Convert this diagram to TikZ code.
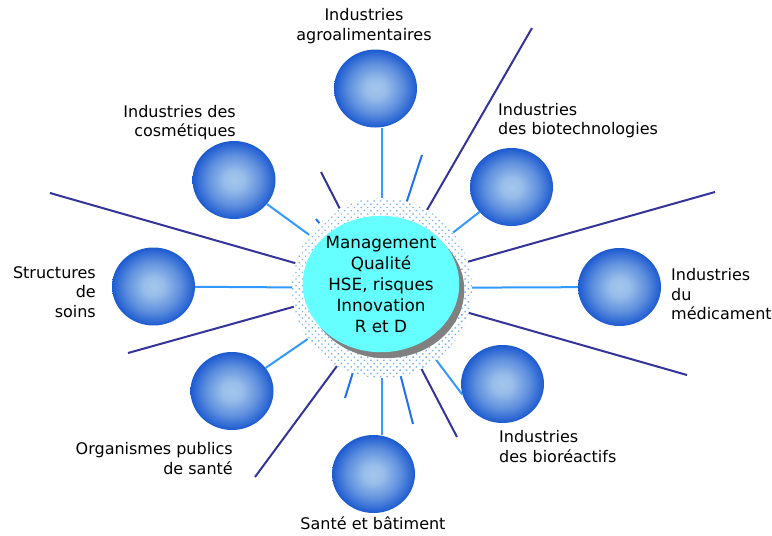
\documentclass[tikz,border=0pt]{standalone}
\usepackage{fontspec}
\setmainfont{DejaVu Sans}
\usetikzlibrary{shapes.geometric,shadows,patterns.meta}
\definecolor{navy}{HTML}{333399}
\definecolor{skyline}{HTML}{3399FF}
\definecolor{brightline}{HTML}{1F6FF5}
\definecolor{corecyan}{HTML}{66FFFF}
\definecolor{dotblue}{HTML}{78B2F5}
\definecolor{ballin}{HTML}{A3C6EC}
\definecolor{ballout}{HTML}{1C5AD0}
\pgfdeclareradialshading{ballshade}{\pgfpoint{0bp}{0bp}}{color(0bp)=(ballin); color(6bp)=(ballin!92!ballout); color(16bp)=(ballin!50!ballout); color(25bp)=(ballout); color(50bp)=(ballout)}
\tikzstyle{ball}=[ellipse,minimum width=83pt,minimum height=78pt,inner sep=0pt,shading=ballshade]
\tikzstyle{feed}=[draw=skyline,line width=2pt]
\tikzstyle{ray}=[draw=navy,line width=2pt]
\tikzstyle{spark}=[draw=brightline,line width=2pt]
\tikzstyle{caption}=[font=\fontsize{16}{19.5}\selectfont,inner sep=0pt]

\begin{document}
\begin{tikzpicture}[x=1pt,y=-1pt]
\useasboundingbox (0,0) rectangle (772,536);

% The dotted halo and the core
\node[circle,minimum size=180pt,inner sep=0pt,preaction={fill=white},
  pattern={Dots[distance=4.6pt,radius=1pt,angle=45]},pattern color=dotblue] (halo) at (382,288) {};

% Free ends of the rays
\foreach \name/\pos in {{n1/(532,28)},{n2/(715,192)},{n3/(687,375)},{n4/(457,437)},{n5/(255,477)},{n6/(128,353)},
  {n7/(50,193)},{n8/(321,172)},{b1/(422,155)},{b2/(345,398)},{b3/(413,424)},{b4/(316,219)}}
\node[coordinate] (\name) at \pos {};

\foreach \ang/\dest in {60/n1,17/n2,-16/n3,-64/n4,-120/n5,192/n6,164/n7,118/n8}
\path[ray] (halo.\ang) -- (\dest);
\foreach \ang/\dest in {74/b1,-109/b2,-78/b3,134/b4}
\path[spark] (halo.\ang) -- (\dest);

\node[ellipse,minimum width=147pt,minimum height=124pt,inner sep=0pt,fill=corecyan,
  drop shadow={shadow xshift=5pt,shadow yshift=-6pt,fill=gray,opacity=1},
  align=center,font=\fontsize{16.8}{21}\selectfont] (core) at (381,284)
  {Management\\Qualité\\HSE, risques\\Innovation\\R et D};

% The balls
\foreach \pos/\name in {{(375.5,88.5)/agro},{(234,180)/cosm},{(511.5,187)/biot},{(153.5,286.5)/soin},
  {(619.5,287)/medi},{(232,391)/orga},{(502.5,384)/bior},{(373.5,474)/bati}}
\node[ball] (\name) at \pos {};

% Connect the balls with the halo
\path[feed] (agro.south -| halo) -- (halo.north);
\path[feed] (halo.south) -- (bati.north -| halo);
\foreach \name in {cosm,biot,soin,medi,orga}
\path[feed] (\name) -- (halo);
\path[feed] (bior.195) -- (halo);

% Captions
\node[caption,align=center] (lagro) at (364,26) {Industries\\agroalimentaires};
\node[caption,align=right,anchor=east] (lcosm) at (236,122.5) {Industries des\\cosmétiques};
\node[caption,align=left,anchor=west] (lbiot) at (498,120.5) {Industries\\des biotechnologies};
\node[caption,align=right,anchor=east] (lsoin) at (96,292) {Structures\\de\\soins};
\node[caption,align=left,anchor=west] (lmedi) at (671,294.5) {Industries\\du\\médicament};
\node[caption,align=right,anchor=east] (lorga) at (233,458.5) {Organismes publics\\de santé};
\node[caption,align=left,anchor=west] (lbior) at (499,446.5) {Industries\\des bioréactifs};
\node[caption] (lbati) at (373,523) {Santé et bâtiment};

\end{tikzpicture}
\end{document}
